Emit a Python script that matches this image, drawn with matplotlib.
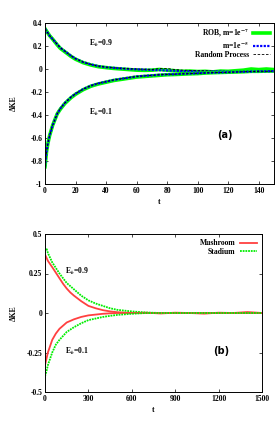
import numpy as np
import matplotlib.pyplot as plt

plt.rcParams['font.family'] = ['Liberation Serif', 'DejaVu Serif']
plt.rcParams['font.weight'] = 'bold'
plt.rcParams['mathtext.fontset'] = 'stix'

# ---- panel (a): ROB billiard vs random process ----
t_a = [0, 1, 2, 3, 5, 8, 10, 13, 17, 20, 25, 30, 35, 40, 45, 50, 55, 60, 65, 70,
       75, 80, 85, 90, 95, 100, 105, 110, 115, 120, 125, 130, 135, 140, 145, 150]
hi_rob = [0.35, 0.33, 0.31, 0.29, 0.26, 0.21, 0.18, 0.15, 0.11, 0.085, 0.055, 0.035,
          0.02, 0.012, 0.005, 0.0, -0.005, -0.01, -0.012, -0.01, -0.004, -0.01, -0.015,
          -0.02, -0.018, -0.022, -0.02, -0.025, -0.018, -0.02, -0.015, -0.01, 0.0,
          -0.005, 0.0, -0.005]
hi_m5 = [0.35, 0.33, 0.31, 0.29, 0.26, 0.215, 0.185, 0.155, 0.115, 0.09, 0.06, 0.04,
         0.025, 0.015, 0.01, 0.005, 0.0, -0.003, -0.005, -0.008, -0.01, -0.012, -0.015,
         -0.018, -0.02, -0.02, -0.022, -0.02, -0.018, -0.02, -0.022, -0.02, -0.018,
         -0.02, -0.018, -0.02]
hi_rand = [0.35, 0.33, 0.31, 0.29, 0.26, 0.215, 0.185, 0.155, 0.115, 0.09, 0.06, 0.04,
           0.025, 0.016, 0.01, 0.006, 0.002, 0.0, -0.002, -0.004, 0.004, 0.005, -0.005,
           -0.01, -0.012, -0.015, -0.015, -0.018, -0.02, -0.02, -0.02, -0.02, -0.02,
           -0.018, -0.018, -0.015]
lo_rob = [-0.85, -0.72, -0.64, -0.58, -0.49, -0.39, -0.35, -0.3, -0.25, -0.22, -0.18,
          -0.15, -0.13, -0.115, -0.1, -0.09, -0.08, -0.07, -0.065, -0.06, -0.055, -0.05,
          -0.048, -0.045, -0.042, -0.04, -0.035, -0.032, -0.03, -0.028, -0.026, -0.024,
          -0.02, -0.02, -0.018, -0.017]
lo_m5 = [-0.85, -0.72, -0.64, -0.58, -0.49, -0.39, -0.345, -0.295, -0.245, -0.215,
         -0.175, -0.145, -0.125, -0.11, -0.095, -0.085, -0.075, -0.065, -0.06, -0.055,
         -0.05, -0.047, -0.045, -0.042, -0.04, -0.037, -0.034, -0.032, -0.03, -0.028,
         -0.026, -0.024, -0.022, -0.02, -0.02, -0.018]
lo_rand = lo_m5

# ---- panel (b): Mushroom vs Stadium ----
t_b = [0, 10, 20, 35, 50, 75, 100, 125, 150, 175, 200, 250, 300, 350, 400, 450, 500,
       600, 700, 800, 900, 1000, 1100, 1200, 1300, 1400, 1500]
hi_mush = [0.37, 0.35, 0.33, 0.31, 0.29, 0.255, 0.22, 0.185, 0.155, 0.13, 0.11, 0.075,
           0.045, 0.03, 0.018, 0.01, 0.005, 0.0, 0.002, -0.003, 0.002, 0.0, -0.004,
           0.002, 0.0, 0.006, 0.0]
hi_stad = [0.4, 0.41, 0.38, 0.35, 0.32, 0.285, 0.25, 0.22, 0.19, 0.17, 0.15, 0.11,
           0.08, 0.06, 0.045, 0.03, 0.02, 0.01, 0.003, 0.0, 0.0, 0.0, 0.0, 0.0, 0.0,
           0.0, 0.0]
lo_mush = [-0.33, -0.29, -0.25, -0.21, -0.17, -0.13, -0.1, -0.08, -0.06, -0.05, -0.04,
           -0.025, -0.015, -0.01, -0.005, -0.002, 0.0, 0.0, 0.0, 0.0, 0.0, 0.0, 0.0, 0.0,
           0.0, 0.0, 0.0]
lo_stad = [-0.4, -0.37, -0.33, -0.29, -0.25, -0.2, -0.17, -0.145, -0.12, -0.105, -0.09,
           -0.065, -0.045, -0.035, -0.025, -0.018, -0.012, -0.005, 0.0, 0.0, 0.0, 0.0,
           0.0, 0.0, 0.0, 0.0, 0.0]

fig = plt.figure(figsize=(2.75, 4.41), dpi=100)
ax1 = fig.add_axes([45 / 275, 1 - 184 / 441, 229 / 275, 161 / 441])
ax2 = fig.add_axes([45 / 275, 1 - 392 / 441, 217 / 275, 158 / 441])

fs = 5.5

# panel (a)
ax1.plot(t_a, hi_rob, color='#00ff00', lw=2.6, label=r'ROB, m=1e$^{-7}$')
ax1.plot(t_a, hi_m5, color='#0000ff', lw=1.6, ls=(0, (1, 0.6)), label=r'm=1e$^{-5}$')
ax1.plot(t_a, hi_rand, color='black', lw=0.6, ls=(0, (3, 2)), label='Random Process')
ax1.plot(t_a, lo_rob, color='#00ff00', lw=2.6)
ax1.plot(t_a, lo_m5, color='#0000ff', lw=1.6, ls=(0, (1, 0.6)))
ax1.plot(t_a, lo_rand, color='black', lw=0.6, ls=(0, (3, 2)))
ax1.set_xlim(0, 150)
ax1.set_ylim(-1, 0.4)
ax1.set_xticks(range(0, 141, 20))
ax1.set_yticks([-1, -0.8, -0.6, -0.4, -0.2, 0, 0.2, 0.4])
ax1.set_yticklabels(['-1', '-0.8', '-0.6', '-0.4', '-0.2', '0', '0.2', '0.4'])
ax1.set_xlabel('t', fontsize=fs, fontweight='bold', labelpad=2)
ax1.set_ylabel('ΔKE', fontsize=fs, fontweight='bold', labelpad=9)
ax1.text(29, 0.2, r'E$_b$=0.9', fontsize=fs)
ax1.text(29, -0.4, r'E$_b$=0.1', fontsize=fs)
ax1.text(113, -0.6, '(a)', fontsize=7, fontweight='bold', fontfamily='DejaVu Sans')
ax1.legend(loc='upper right', frameon=False, markerfirst=False, fontsize=fs,
           handlelength=2.2, labelspacing=0.0, borderaxespad=0.1,
           handletextpad=0.6)

# panel (b)
ax2.plot(t_b, hi_mush, color='#ff4040', lw=1.3, label='Mushroom')
ax2.plot(t_b, hi_stad, color='#00ee00', lw=1.3, ls=(0, (1, 0.5)), label='Stadium')
ax2.plot(t_b, lo_mush, color='#ff4040', lw=1.3)
ax2.plot(t_b, lo_stad, color='#00ee00', lw=1.3, ls=(0, (1, 0.5)))
ax2.set_xlim(0, 1500)
ax2.set_ylim(-0.5, 0.5)
ax2.set_xticks(range(0, 1501, 300))
ax2.set_yticks([-0.5, -0.25, 0, 0.25, 0.5])
ax2.set_yticklabels(['-0.5', '-0.25', '0', '0.25', '0.5'])
ax2.set_xlabel('t', fontsize=fs, fontweight='bold', labelpad=2)
ax2.set_ylabel('ΔKE', fontsize=fs, fontweight='bold', labelpad=6)
ax2.text(140, 0.25, r'E$_b$=0.9', fontsize=fs)
ax2.text(140, -0.26, r'E$_b$=0.1', fontsize=fs)
ax2.text(1160, -0.26, '(b)', fontsize=7, fontweight='bold', fontfamily='DejaVu Sans')
ax2.legend(loc='upper right', frameon=False, markerfirst=False, fontsize=fs,
           handlelength=2.2, labelspacing=0.05, borderaxespad=0.3, handletextpad=0.6)

for ax in (ax1, ax2):
    ax.tick_params(direction='in', top=True, right=True, labelsize=fs, length=2.5,
                   width=0.5, pad=2)
    for s in ax.spines.values():
        s.set_linewidth(0.7)
    for lab in ax.get_xticklabels() + ax.get_yticklabels():
        lab.set_fontweight('bold')

fig.savefig('out.png', dpi=100)
